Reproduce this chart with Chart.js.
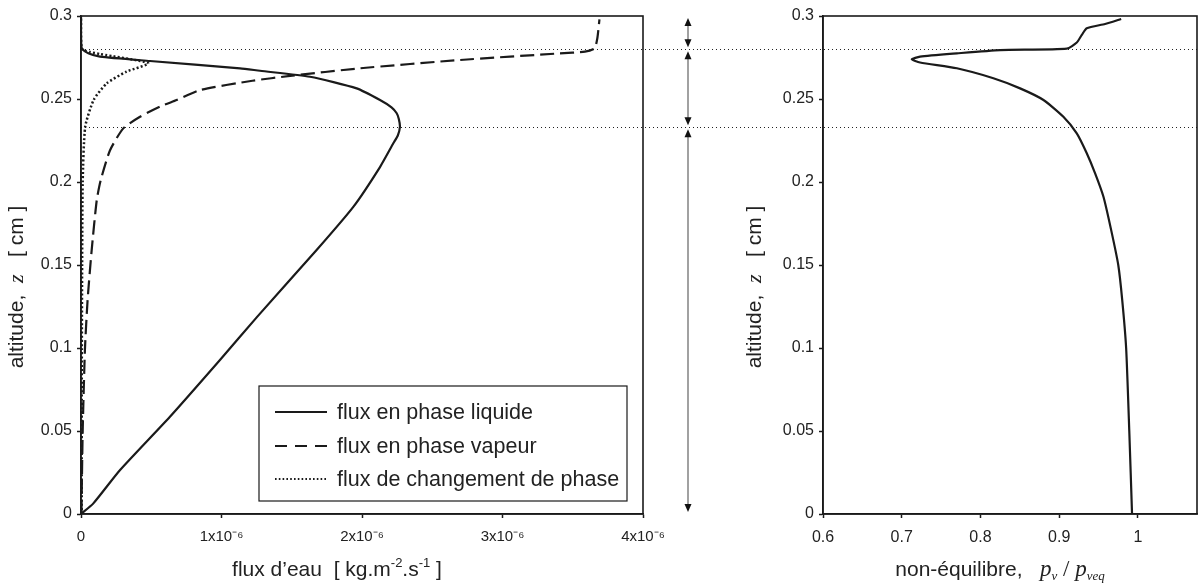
<!DOCTYPE html>
<html><head><meta charset="utf-8">
<script src="https://cdn.jsdelivr.net/npm/chart.js@4.4.1/dist/chart.umd.min.js"></script>
<style>
html,body{margin:0;padding:0;background:#fff;}
#wrap{position:relative;width:1198px;height:584px;overflow:hidden;background:#fff;}
#c1{position:absolute;left:0;top:0;}
#c2{position:absolute;left:700px;top:0;}
</style></head><body>
<div id="wrap">
<canvas id="c1" width="700" height="584"></canvas>
<canvas id="c2" width="498" height="584"></canvas>
</div>
<script>
// ---------- data ----------
const liquidZ    = [0, 0.0064, 0.0265, 0.0586, 0.0928, 0.1189, 0.159, 0.185, 0.209, 0.2233, 0.228, 0.2333, 0.238, 0.2414, 0.245, 0.2494, 0.2564, 0.2634, 0.267, 0.2685, 0.2729, 0.2755, 0.2775, 0.2805, 0.29, 0.3];
const liquidFlux = [0, 0.088e-6, 0.278e-6, 0.633e-6, 0.989e-6, 1.255e-6, 1.677e-6, 1.938e-6, 2.128e-6, 2.223e-6, 2.255e-6, 2.27e-6, 2.262e-6, 2.247e-6, 2.21e-6, 2.128e-6, 1.962e-6, 1.63e-6, 1.274e-6, 1.132e-6, 0.491e-6, 0.135e-6, 0.052e-6, 0.005e-6, 0, 0];

const vapourZ    = [0, 0.05, 0.099, 0.129, 0.159, 0.189, 0.201, 0.219, 0.2323, 0.2393, 0.2454, 0.2494, 0.2554, 0.261, 0.2639, 0.2685, 0.2735, 0.2775, 0.2785, 0.2805, 0.2866, 0.298];
const vapourFlux = [0.003e-6, 0.012e-6, 0.028e-6, 0.047e-6, 0.076e-6, 0.112e-6, 0.14e-6, 0.206e-6, 0.301e-6, 0.42e-6, 0.562e-6, 0.681e-6, 0.847e-6, 1.22e-6, 1.488e-6, 1.986e-6, 2.698e-6, 3.409e-6, 3.587e-6, 3.655e-6, 3.675e-6, 3.69e-6];

const phaseZ     = [0, 0.05, 0.1, 0.15, 0.2, 0.2333, 0.2494, 0.2594, 0.2665, 0.2715, 0.2771, 0.2783, 0.2793, 0.2807, 0.29, 0.3];
const phaseFlux  = [0.005e-6, 0.005e-6, 0.006e-6, 0.008e-6, 0.012e-6, 0.03e-6, 0.09e-6, 0.183e-6, 0.325e-6, 0.479e-6, 0.135e-6, 0.064e-6, 0.02e-6, 0.004e-6, 0, 0];

const ratioZ     = [0, 0.05, 0.1, 0.129, 0.15, 0.171, 0.1911, 0.2052, 0.2173, 0.2293, 0.2393, 0.2494, 0.2564, 0.2625, 0.2685, 0.272, 0.2739, 0.2755, 0.2775, 0.2795, 0.2803, 0.284, 0.2886, 0.2926, 0.2952, 0.2982];
const ratioValue = [0.9925, 0.989, 0.985, 0.98, 0.975, 0.966, 0.9562, 0.9456, 0.935, 0.9223, 0.9053, 0.88, 0.8503, 0.8164, 0.77, 0.7233, 0.7127, 0.7233, 0.77, 0.825, 0.9097, 0.9223, 0.9287, 0.935, 0.9583, 0.9787];

const seriesLabels = ['flux en phase liquide', 'flux en phase vapeur', 'flux de changement de phase'];
const zoneLevels   = [0.233, 0.28];          // dotted horizontal separators
const zoneBounds   = [0, 0.233, 0.28, 0.3];  // double-arrow zones
const fluxTicks    = [0, 1e-6, 2e-6, 3e-6, 4e-6];

// ---------- helpers ----------
const INK = '#1a1a1a';
const SANS = '"Liberation Sans", Arial, Helvetica, sans-serif';
const SERIF = '"Liberation Serif", "Times New Roman", serif';
const pairs = (xs, zs) => zs.map((z, i) => ({x: xs[i], y: z}));
const plain = v => String(Math.round(v * 1000) / 1000);

function drawRuns(ctx, runs, cx, cy, rot) {
  ctx.save();
  ctx.translate(cx, cy);
  if (rot) ctx.rotate(rot);
  let total = 0;
  runs.forEach(r => { ctx.font = r.font; r.w = ctx.measureText(r.t).width; total += r.w; });
  let x = -total / 2;
  ctx.textBaseline = 'alphabetic';
  ctx.textAlign = 'left';
  ctx.fillStyle = '#222';
  runs.forEach(r => { ctx.font = r.font; ctx.fillText(r.t, x, r.dy || 0); x += r.w; });
  ctx.restore();
}

function frame(chart) {
  const {ctx, chartArea: a} = chart;
  ctx.save();
  ctx.strokeStyle = INK; ctx.lineWidth = 1.6;
  ctx.strokeRect(a.left, a.top, a.right - a.left, a.bottom - a.top);
  ctx.restore();
}

function zoneLines(chart, x0, x1) {
  const {ctx, scales: {y}} = chart;
  ctx.save();
  ctx.strokeStyle = '#222'; ctx.lineWidth = 1; ctx.setLineDash([1, 3]);
  zoneLevels.forEach(z => {
    const py = Math.round(y.getPixelForValue(z)) + 0.5;
    ctx.beginPath(); ctx.moveTo(x0, py); ctx.lineTo(x1, py); ctx.stroke();
  });
  ctx.restore();
}

function arrowHead(ctx, x, tipY, dir) { // dir -1 up, +1 down
  ctx.beginPath();
  ctx.moveTo(x, tipY);
  ctx.lineTo(x - 3.5, tipY - dir * 8);
  ctx.lineTo(x + 3.5, tipY - dir * 8);
  ctx.closePath(); ctx.fill();
}

function commonY() {
  return {
    type: 'linear', min: 0, max: 0.3,
    ticks: {stepSize: 0.05, color: '#222', font: {family: SANS, size: 16}, padding: 5, callback: plain},
    grid: {drawOnChartArea: false, drawTicks: true, tickLength: 4, color: INK, tickWidth: 1.5},
    border: {display: true, color: INK, width: 1.6},
    afterFit: s => { s.width = 81; }
  };
}

const TITLE = '21px ' + SANS;
const LEGEND = '21.5px ' + SANS;

// ---------- left chart ----------
const leftPlugin = {
  id: 'leftDeco',
  beforeDatasetsDraw(chart) { zoneLines(chart, chart.chartArea.left, chart.width); },
  afterDraw(chart) {
    const {ctx, chartArea: a, scales: {y}} = chart;
    frame(chart);
    // double arrows marking the zones
    const ax = a.right + 45;
    ctx.save();
    for (let i = 0; i < zoneBounds.length - 1; i++) {
      const yb = y.getPixelForValue(zoneBounds[i]) - 2;
      const yt = y.getPixelForValue(zoneBounds[i + 1]) + 2;
      ctx.strokeStyle = '#8a8a8a'; ctx.lineWidth = 1.6;
      ctx.beginPath(); ctx.moveTo(ax, yt + 6); ctx.lineTo(ax, yb - 6); ctx.stroke();
      ctx.fillStyle = '#111';
      arrowHead(ctx, ax, yt, -1);
      arrowHead(ctx, ax, yb, 1);
    }
    ctx.restore();
    // legend box
    const bw = 368, bh = 115;
    const bx = a.right - 16 - bw, by = a.bottom - 13 - bh;
    ctx.save();
    ctx.fillStyle = '#fff'; ctx.fillRect(bx, by, bw, bh);
    ctx.strokeStyle = INK; ctx.lineWidth = 1.2; ctx.strokeRect(bx, by, bw, bh);
    const rows = [26, 60, 93];
    const dashes = [[], [12, 8], [1.6, 2.2]];
    const widths = [2.2, 2.2, 1.8];
    chart.data.datasets.forEach((ds, i) => {
      const ry = by + rows[i];
      ctx.strokeStyle = INK; ctx.lineWidth = widths[i]; ctx.setLineDash(dashes[i]);
      ctx.beginPath(); ctx.moveTo(bx + 16, ry); ctx.lineTo(bx + 68, ry); ctx.stroke();
      ctx.setLineDash([]);
      ctx.fillStyle = '#222'; ctx.font = LEGEND; ctx.textBaseline = 'middle';
      ctx.fillText(ds.label, bx + 78, ry + 1);
    });
    ctx.restore();
    // axis titles
    const fsSup = '13px ' + SANS;
    drawRuns(ctx, [
      {t: 'flux d\u2019eau  [ kg.m', font: TITLE},
      {t: '-2', font: fsSup, dy: -9},
      {t: '.s', font: TITLE},
      {t: '-1', font: fsSup, dy: -9},
      {t: ' ]', font: TITLE}
    ], (a.left + a.right) / 2 - 25, 576, 0);
    drawRuns(ctx, [
      {t: 'altitude,  ', font: TITLE},
      {t: 'z', font: 'italic 22px ' + SERIF},
      {t: '   [ cm ]', font: TITLE}
    ], a.left - 58, (a.top + a.bottom) / 2 + 22, -Math.PI / 2);
  }
};

new Chart(document.getElementById('c1'), {
  type: 'scatter',
  data: {
    datasets: [
      {label: seriesLabels[0], data: pairs(liquidFlux, liquidZ), showLine: true, borderColor: INK, borderWidth: 2.2, pointRadius: 0, tension: 0.2},
      {label: seriesLabels[1], data: pairs(vapourFlux, vapourZ), showLine: true, borderColor: INK, borderWidth: 2.2, borderDash: [14, 6], pointRadius: 0, tension: 0.2},
      {label: seriesLabels[2], data: pairs(phaseFlux, phaseZ), showLine: true, borderColor: INK, borderWidth: 2.5, borderDash: [2, 2.2], pointRadius: 0, tension: 0.2}
    ]
  },
  options: {
    responsive: false, animation: false,
    layout: {padding: {left: 0, top: 16, right: 57, bottom: 0}},
    plugins: {legend: {display: false}, tooltip: {enabled: false}},
    scales: {
      x: {
        type: 'linear', min: 0, max: 4e-6,
        afterBuildTicks: s => { s.ticks = fluxTicks.map(v => ({value: v})); },
        ticks: {
          color: '#222', font: {family: SANS, size: 15}, padding: 10,
          callback: v => { const n = Math.round(v * 1e6); return n === 0 ? '0' : n + 'x10\u207B\u2076'; }
        },
        grid: {drawOnChartArea: false, drawTicks: true, tickLength: 4, color: INK, tickWidth: 1.5},
        border: {display: true, color: INK, width: 1.6},
        afterFit: s => { s.height = 70; }
      },
      y: commonY()
    }
  },
  plugins: [leftPlugin]
});

// ---------- right chart ----------
const rightPlugin = {
  id: 'rightDeco',
  beforeDatasetsDraw(chart) { zoneLines(chart, 0, chart.chartArea.right); },
  afterDraw(chart) {
    const {ctx, chartArea: a} = chart;
    frame(chart);
    const it = 'italic 23px ' + SERIF, sub = 'italic 13px ' + SERIF;
    drawRuns(ctx, [
      {t: 'non-\u00E9quilibre,   ', font: TITLE},
      {t: 'p', font: it},
      {t: 'v', font: sub, dy: 4},
      {t: ' / ', font: '23px ' + SERIF},
      {t: 'p', font: it},
      {t: 'veq', font: sub, dy: 4}
    ], (a.left + a.right) / 2 - 10, 576, 0);
    drawRuns(ctx, [
      {t: 'altitude,  ', font: TITLE},
      {t: 'z', font: 'italic 22px ' + SERIF},
      {t: '   [ cm ]', font: TITLE}
    ], a.left - 62, (a.top + a.bottom) / 2 + 22, -Math.PI / 2);
  }
};

new Chart(document.getElementById('c2'), {
  type: 'scatter',
  data: {
    datasets: [
      {label: 'pv / pveq', data: pairs(ratioValue, ratioZ), showLine: true, borderColor: INK, borderWidth: 2.2, pointRadius: 0, tension: 0.2}
    ]
  },
  options: {
    responsive: false, animation: false,
    layout: {padding: {left: 42, top: 16, right: 1, bottom: 0}},
    plugins: {legend: {display: false}, tooltip: {enabled: false}},
    scales: {
      x: {
        type: 'linear', min: 0.6, max: 1.075,
        ticks: {stepSize: 0.1, includeBounds: false, color: '#222', font: {family: SANS, size: 16}, padding: 10, callback: plain},
        grid: {drawOnChartArea: false, drawTicks: true, tickLength: 4, color: INK, tickWidth: 1.5},
        border: {display: true, color: INK, width: 1.6},
        afterFit: s => { s.height = 70; }
      },
      y: commonY()
    }
  },
  plugins: [rightPlugin]
});
</script>
</body></html>
